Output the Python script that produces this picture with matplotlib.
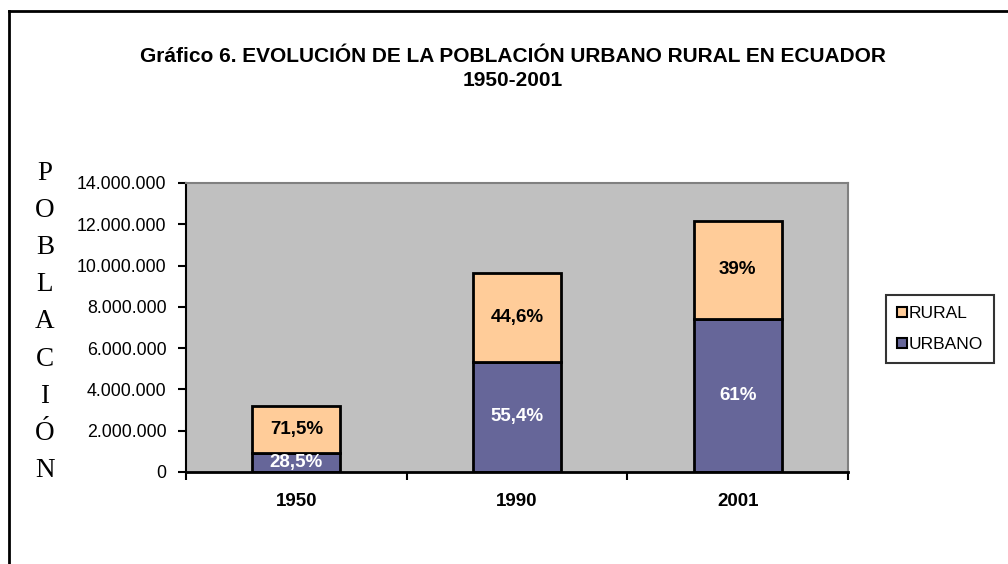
import numpy as np
import matplotlib.pyplot as plt
from matplotlib.ticker import FuncFormatter
from matplotlib.lines import Line2D

# data (Ecuador census population)
years = ['1950', '1990', '2001']
urbano = [913932, 5345858, 7431355]
rural = [2288825, 4302331, 4725253]
pct_urbano = ['28,5%', '55,4%', '61%']
pct_rural = ['71,5%', '44,6%', '39%']

c_rural = '#FFCC99'
c_urbano = '#666699'

plt.rcParams['font.family'] = ['Liberation Sans', 'DejaVu Sans']

fig = plt.figure(figsize=(10.08, 5.64), dpi=100)
ax = fig.add_axes([186/1008, 1 - 472/564, 662/1008, 289/564])
ax.set_facecolor('#C0C0C0')

x = np.arange(len(years))
ax.bar(x, urbano, width=0.4, color=c_urbano, edgecolor='black', linewidth=2, label='URBANO')
ax.bar(x, rural, width=0.4, bottom=urbano, color=c_rural, edgecolor='black', linewidth=2, label='RURAL')

for i in range(len(years)):
    ax.text(x[i], urbano[i] / 2, pct_urbano[i], ha='center', va='center',
            color='white', fontsize=13.5, fontweight='bold')
    ax.text(x[i], urbano[i] + rural[i] / 2, pct_rural[i], ha='center', va='center',
            color='black', fontsize=13.5, fontweight='bold')

ax.set_xlim(-0.5, 2.5)
ax.set_ylim(0, 14000000)
ax.set_yticks(np.arange(0, 14000001, 2000000))
ax.yaxis.set_major_formatter(FuncFormatter(lambda v, p: f'{int(v):,}'.replace(',', '.')))
ax.tick_params(axis='y', length=6, width=1.5, labelsize=12.8, pad=8)

ax.set_xticks(x)
ax.set_xticklabels(years, fontweight='bold', fontsize=13.5)
ax.set_xticks([-0.5, 0.5, 1.5, 2.5], minor=True)
ax.tick_params(axis='x', which='major', length=0, pad=15)
ax.tick_params(axis='x', which='minor', length=6, width=1.5)

ax.spines['left'].set_linewidth(1.5)
ax.spines['bottom'].set_linewidth(2)
for s in ['top', 'right']:
    ax.spines[s].set_color('#808080')
    ax.spines[s].set_linewidth(1.5)

fig.text(513/1008, 1 - 56/564, 'Gráfico 6. EVOLUCIÓN DE LA POBLACIÓN URBANO RURAL EN ECUADOR',
         ha='center', va='center', fontsize=15, fontweight='bold')
fig.text(513/1008, 1 - 81/564, '1950-2001', ha='center', va='center',
         fontsize=15, fontweight='bold')

# vertical stacked axis title
letters = list('POBLACIÓN')
for k, ch in enumerate(letters):
    fig.text(45/1008, 1 - (173 + k * 37.2) / 564, ch, ha='center', va='center',
             fontsize=19.5, family='Liberation Serif')

handles = [
    Line2D([], [], marker='s', linestyle='none', markersize=7, markerfacecolor=c_rural,
           markeredgecolor='black', markeredgewidth=1.5, label='RURAL'),
    Line2D([], [], marker='s', linestyle='none', markersize=7, markerfacecolor=c_urbano,
           markeredgecolor='black', markeredgewidth=1.5, label='URBANO'),
]
leg = fig.legend(handles=handles, loc='center', bbox_to_anchor=(940/1008, 1 - 329/564),
                 fontsize=12.5, frameon=True, fancybox=False, handlelength=0.6,
                 handletextpad=0.1, borderpad=0.65, labelspacing=0.9, borderaxespad=0)
leg.get_frame().set_edgecolor('black')
leg.get_frame().set_linewidth(1.5)

# outer frame (left and top edges visible)
fig.add_artist(Line2D([9/1008, 9/1008], [0, 1 - 11/564], color='black', lw=2))
fig.add_artist(Line2D([9/1008, 1], [1 - 11/564, 1 - 11/564], color='black', lw=2))

fig.savefig('out.png', dpi=100)
